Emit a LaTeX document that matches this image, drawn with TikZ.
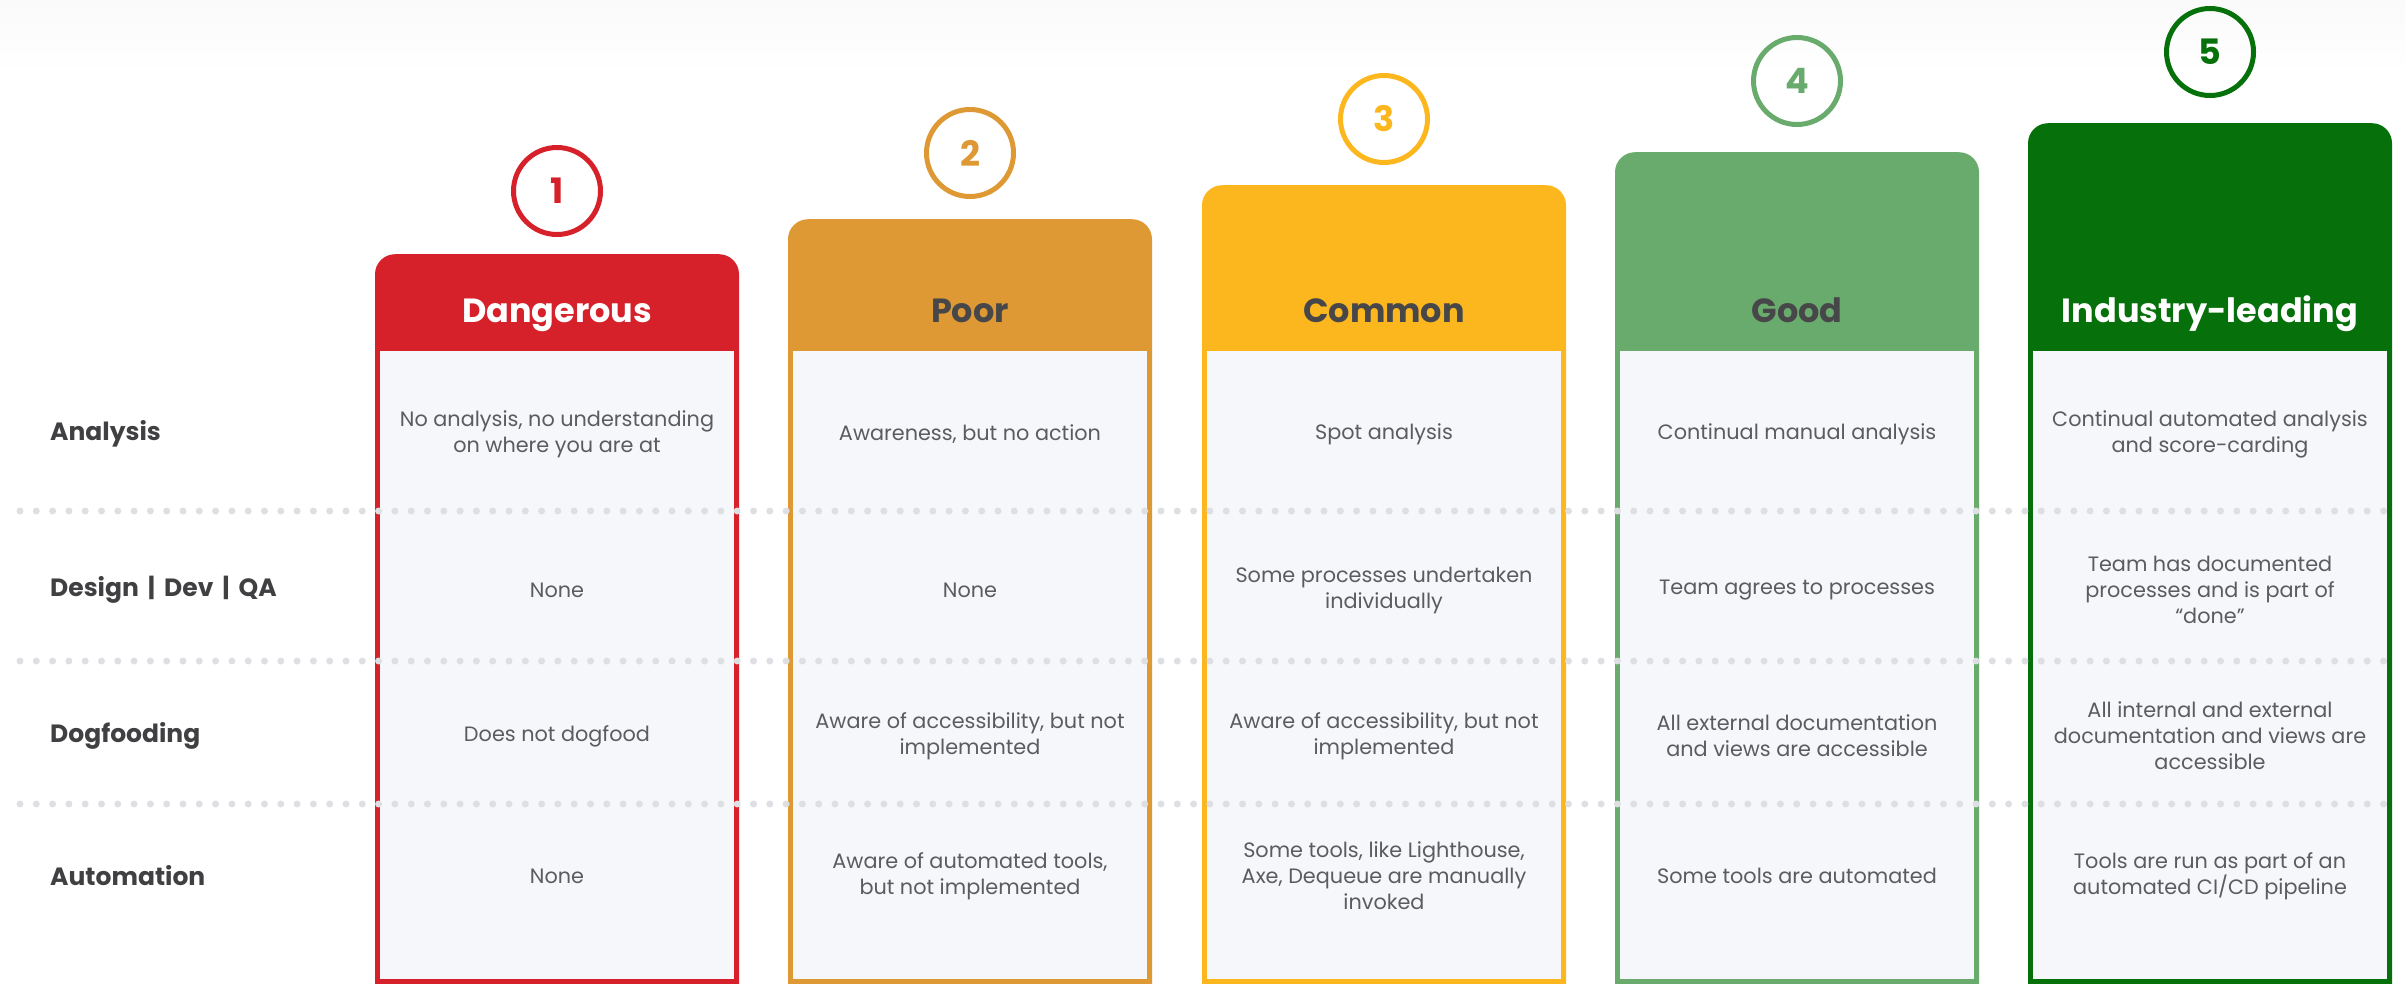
\documentclass[tikz,border=0pt]{standalone}
\usepackage{fontspec}
\setmainfont{Poppins}
\usetikzlibrary{positioning}

\definecolor{lvlred}{HTML}{D6202A}
\definecolor{lvlpoor}{HTML}{DE9935}
\definecolor{lvlcommon}{HTML}{FDB71E}
\definecolor{lvlgood}{HTML}{69AA6D}
\definecolor{lvllead}{HTML}{06700A}
\definecolor{panel}{HTML}{F6F7FB}
\definecolor{dotgray}{HTML}{DEDFE3}
\definecolor{celltext}{HTML}{5C5C5E}
\definecolor{labeltext}{HTML}{404042}
\definecolor{titledark}{HTML}{47474A}

\begin{document}
\begin{tikzpicture}[x=1pt, y=-1pt, every node/.style={align=center, inner sep=0pt},
  levelcol/.style={fill=#1, rounded corners=20pt, minimum width=364pt, minimum height=900pt, anchor=north},
  badge/.style={circle, draw=#1, line width=5pt, minimum size=87pt, text=#1, font=\fontsize{35}{35}\selectfont\bfseries},
  title/.style={anchor=base, text=#1, font=\fontsize{33.5}{40}\selectfont\bfseries},
  cell/.style={text=celltext, font=\fontsize{20.8}{26}\selectfont},
  rowlabel/.style={anchor=west, text=labeltext, font=\fontsize{25}{30}\selectfont\bfseries},
  dots/.style={dotgray, line width=7pt, line cap=round, dash pattern=on 0pt off 16.3pt}]

\useasboundingbox (0,0) rectangle (2405,983);
\clip (0,0) rectangle (2405,983);
\shade[top color=black!2, bottom color=white] (0,0) rectangle (2405,75);

% Level columns
\node[levelcol=lvlred] (col1) at (557,254) {};
\node[levelcol=lvlpoor] (col2) at (970,219) {};
\node[levelcol=lvlcommon] (col3) at (1384,185) {};
\node[levelcol=lvlgood] (col4) at (1797,152) {};
\node[levelcol=lvllead] (col5) at (2210,123) {};

% Panels
\fill[panel] (380,351) rectangle (734,979);
\fill[panel] (793,351) rectangle (1147,979);
\fill[panel] (1207,351) rectangle (1561,979);
\fill[panel] (1620,351) rectangle (1974,979);
\fill[panel] (2033,351) rectangle (2387,979);

% Row separators
\draw[dots] (20,511) -- (2395,511);
\draw[dots] (20,661) -- (2395,661);
\draw[dots] (20,804) -- (2395,804);

% Badges
\node[badge=lvlred] (b1) at (557,191) {1};
\node[badge=lvlpoor] (b2) at (970,153) {2};
\node[badge=lvlcommon] (b3) at (1384,119) {3};
\node[badge=lvlgood] (b4) at (1797,81) {4};
\node[badge=lvllead] (b5) at (2210,52) {5};

% Titles
\node[title=white] (t1) at (557,322) {Dangerous};
\node[title=titledark] (t2) at (970,322) {Poor};
\node[title=titledark] (t3) at (1384,322) {Common};
\node[title=titledark] (t4) at (1797,322) {Good};
\node[title=white] (t5) at (2210,322) {Industry-leading};

% Row labels
\node[rowlabel] (lana) at (50,434) {Analysis};
\node[rowlabel] (ldev) at (50,590) {Design\hspace{9pt}|\hspace{9pt}Dev\hspace{9pt}|\hspace{9pt}QA};
\node[rowlabel] (ldog) at (50,736) {Dogfooding};
\node[rowlabel] (laut) at (50,876) {Automation};

% Analysis
\node[cell] (a1) at (557,434) {No analysis, no understanding\\on where you are at};
\node[cell] (a2) at (970,434) {Awareness, but no action};
\node[cell] (a3) at (1384,434) {Spot analysis};
\node[cell] (a4) at (1797,434) {Continual manual analysis};
\node[cell] (a5) at (2210,434) {Continual automated analysis\\and score-carding};

% Design | Dev | QA
\node[cell] (d1) at (557,590) {None};
\node[cell] (d2) at (970,590) {None};
\node[cell] (d3) at (1384,590) {Some processes undertaken\\individually};
\node[cell] (d4) at (1797,590) {Team agrees to processes};
\node[cell] (d5) at (2210,590) {Team has documented\\processes and is part of\\“done”};

% Dogfooding
\node[cell] (g1) at (557,736) {Does not dogfood};
\node[cell] (g2) at (970,736) {Aware of accessibility, but not\\implemented};
\node[cell] (g3) at (1384,736) {Aware of accessibility, but not\\implemented};
\node[cell] (g4) at (1797,736) {All external documentation\\and views are accessible};
\node[cell] (g5) at (2210,736) {All internal and external\\documentation and views are\\accessible};

% Automation
\node[cell] (u1) at (557,876) {None};
\node[cell] (u2) at (970,876) {Aware of automated tools,\\but not implemented};
\node[cell] (u3) at (1384,876) {Some tools, like Lighthouse,\\Axe, Dequeue are manually\\invoked};
\node[cell] (u4) at (1797,876) {Some tools are automated};
\node[cell] (u5) at (2210,876) {Tools are run as part of an\\automated CI/CD pipeline};

\end{tikzpicture}
\end{document}
